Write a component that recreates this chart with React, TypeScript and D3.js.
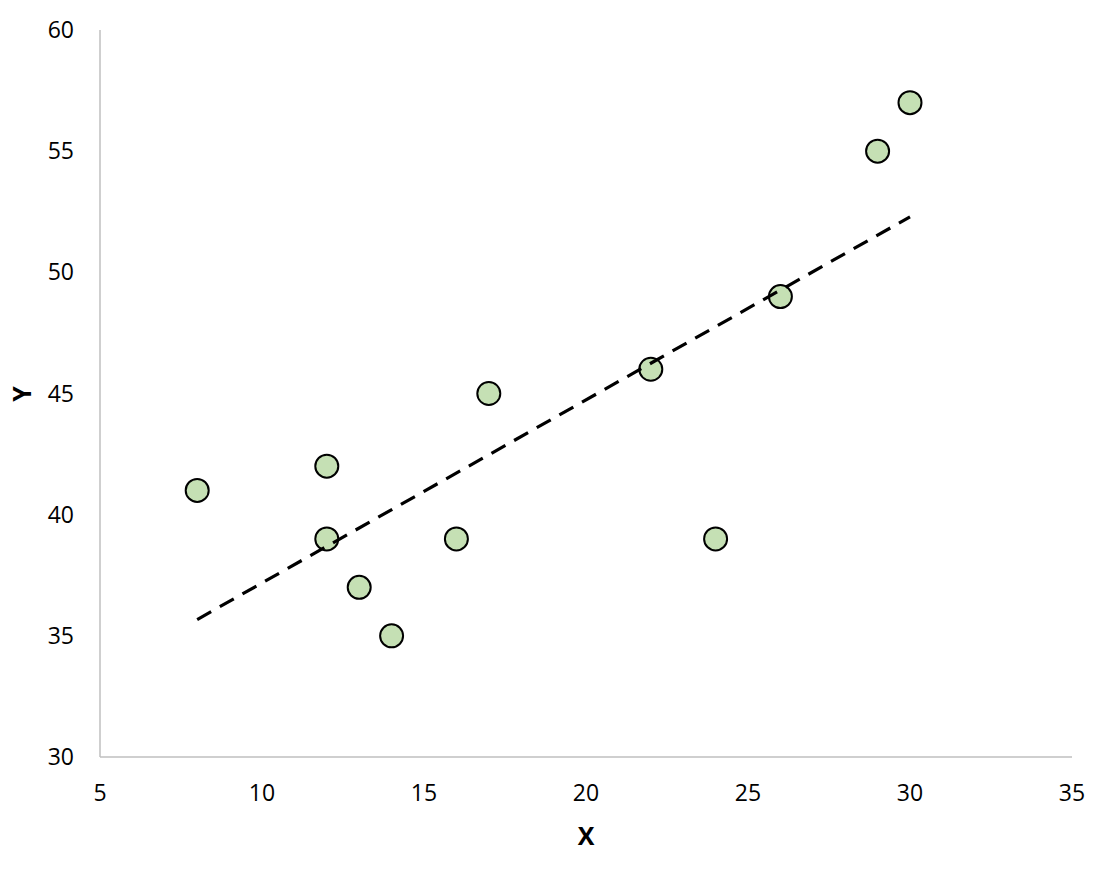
import React from "react";
import * as d3 from "d3";

const xValues = [8, 12, 12, 13, 14, 16, 17, 22, 24, 26, 29, 30];
const yValues = [41, 42, 39, 37, 35, 39, 45, 46, 39, 49, 55, 57];
const xTicks = [5, 10, 15, 20, 25, 30, 35];
const yTicks = [30, 35, 40, 45, 50, 55, 60];

const W = 1100;
const H = 874;
const left = 100;
const right = 1072;
const top = 30;
const bottom = 757;
const font = "'Open Sans', 'Noto Sans', sans-serif";

export default function App() {
  const x = d3.scaleLinear().domain([5, 35]).range([left, right]);
  const y = d3.scaleLinear().domain([30, 60]).range([bottom, top]);

  const mx = d3.mean(xValues)!;
  const my = d3.mean(yValues)!;
  let sxy = 0, sxx = 0;
  xValues.forEach((xv, i) => {
    sxy += (xv - mx) * (yValues[i] - my);
    sxx += (xv - mx) ** 2;
  });
  const slope = sxy / sxx;
  const intercept = my - slope * mx;
  const x0 = d3.min(xValues)!;
  const x1 = d3.max(xValues)!;
  const line = d3.line<number>().x((d) => x(d)).y((d) => y(slope * d + intercept));

  return (
    <svg
      width={W}
      height={H}
      style={{ position: "absolute", left: 0, top: 0, background: "#fff" }}
    >
      <line x1={left} x2={left} y1={top} y2={bottom} stroke="#bfbfbf" strokeWidth={1.5} />
      <line x1={left} x2={right} y1={bottom} y2={bottom} stroke="#bfbfbf" strokeWidth={1.5} />
      {yTicks.map((t) => (
        <text
          key={"y" + t}
          x={74}
          y={y(t) + 8}
          textAnchor="end"
          fontFamily={font}
          fontSize={23}
          fill="#000"
        >
          {t}
        </text>
      ))}
      {xTicks.map((t) => (
        <text
          key={"x" + t}
          x={x(t)}
          y={801}
          textAnchor="middle"
          fontFamily={font}
          fontSize={23}
          fill="#000"
        >
          {t}
        </text>
      ))}
      <text
        x={586}
        y={845}
        textAnchor="middle"
        fontFamily={font}
        fontSize={25}
        fontWeight="bold"
      >
        X
      </text>
      <text
        transform={`translate(31, 394) rotate(-90)`}
        textAnchor="middle"
        fontFamily={font}
        fontSize={25}
        fontWeight="bold"
      >
        Y
      </text>
      {xValues.map((xv, i) => (
        <circle
          key={"p" + i}
          cx={x(xv)}
          cy={y(yValues[i])}
          r={11.5}
          fill="#c5e0b4"
          stroke="#000"
          strokeWidth={2}
        />
      ))}
      <path
        d={line([x0, x1]) || ""}
        fill="none"
        stroke="#000"
        strokeWidth={3.2}
        strokeDasharray="16 10"
      />
    </svg>
  );
}
